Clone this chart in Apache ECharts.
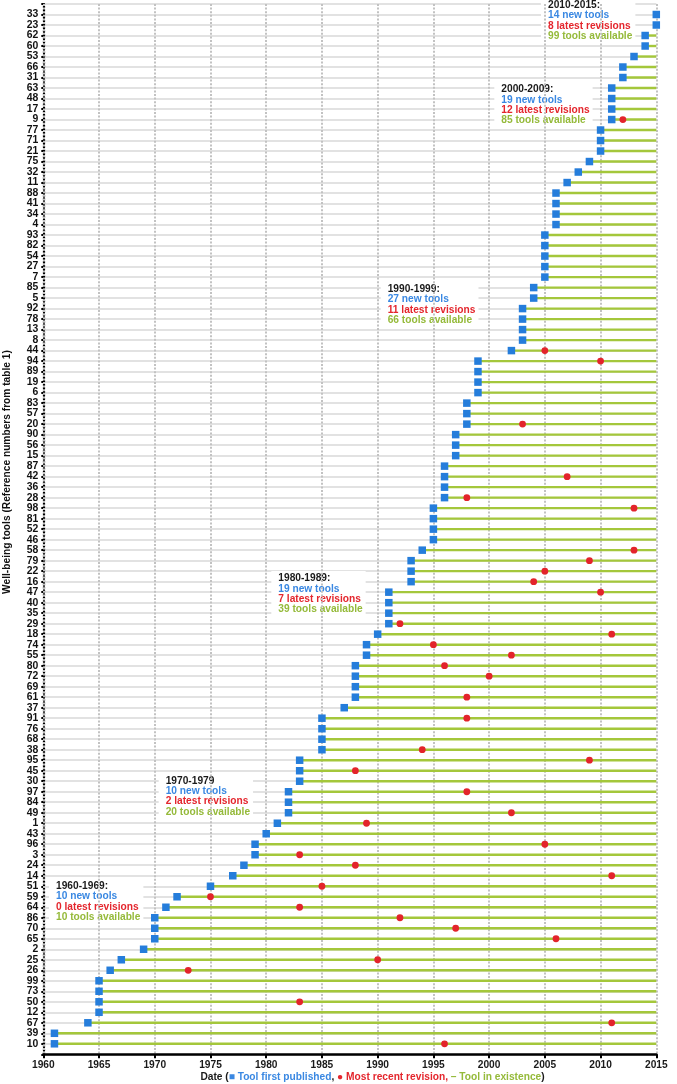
<!DOCTYPE html>
<html><head><meta charset="utf-8">
<script src="https://cdn.jsdelivr.net/npm/echarts@6/dist/echarts.min.js"></script>
<style>html,body{margin:0;padding:0;background:#fff}#c{width:677px;height:1084px}</style>
</head><body><div id="c"></div>
<script>
// Tools listed bottom -> top (reference numbers from table 1)
const tools = ['10','39','67','12','50','73','99','26','25','2',
  '65','70','86','64','59','51','14','24','3','96',
  '43','1','49','84','97','30','45','95','38','68',
  '76','91','37','61','69','72','80','55','74','18',
  '29','35','40','47','16','22','79','58','46','52',
  '81','98','28','36','42','87','15','56','90','20',
  '57','83','6','19','89','94','44','8','13','78',
  '92','5','85','7','27','54','82','93','4','34',
  '41','88','11','32','75','21','71','77','9','17',
  '48','63','31','66','53','60','62','23','33'];
const firstPublished = [1961,1961,1964,1965,1965,1965,1965,1966,1967,1969,
  1970,1970,1970,1971,1972,1975,1977,1978,1979,1979,
  1980,1981,1982,1982,1982,1983,1983,1983,1985,1985,
  1985,1985,1987,1988,1988,1988,1988,1989,1989,1990,
  1991,1991,1991,1991,1993,1993,1993,1994,1995,1995,
  1995,1995,1996,1996,1996,1996,1997,1997,1997,1998,
  1998,1998,1999,1999,1999,1999,2002,2003,2003,2003,
  2003,2004,2004,2005,2005,2005,2005,2005,2006,2006,
  2006,2006,2007,2008,2009,2010,2010,2010,2011,2011,
  2011,2011,2012,2012,2013,2014,2014,2015,2015];
const latestRevision = [1996,null,2011,null,1983,null,null,1973,1990,null,
  2006,1997,1992,1983,1975,1985,2011,1988,1983,2005,
  null,1989,2002,null,1998,null,1988,2009,1994,null,
  null,1998,null,1998,null,2000,1996,2002,1995,2011,
  1992,null,null,2010,2004,2005,2009,2013,null,null,
  null,2013,1998,null,2007,null,null,null,null,2003,
  null,null,null,null,null,2010,2005,null,null,null,
  null,null,null,null,null,null,null,null,null,null,
  null,null,null,null,null,null,null,null,2012,null,
  null,null,null,null,null,null,null,null,null];
const yearStart = 1960, yearEnd = 2015, yearStep = 5;

const decadeLabels = ['1960-1969:','1970-1979','1980-1989:','1990-1999:','2000-2009:','2010-2015:'];
const decadeNewTools = [10,10,19,27,19,14];
const decadeRevisions = [0,2,7,11,12,8];
const decadeAvailable = [10,20,39,66,85,99];
const noteAnchors = [[56,886],[165.7,780.7],[278.3,578.3],[387.7,289],[501.3,89.3],[548,5]];

const BLUE = '#257ddb', RED = '#e3242b', GREEN = '#a4c73b', GRAY = '#e2e2e2';
const FONT = 'Arial, "Liberation Sans", sans-serif';
const LH = 10.45;

const richStyles = {
  h: {fill:'#1a1a1a', fontWeight:'bold', fontSize:10.2, fontFamily:FONT, lineHeight:LH},
  b: {fill:'#3a88e2', fontWeight:'bold', fontSize:10.2, fontFamily:FONT, lineHeight:LH},
  r: {fill:'#e4262d', fontWeight:'bold', fontSize:10.2, fontFamily:FONT, lineHeight:LH},
  g: {fill:'#95ba3a', fontWeight:'bold', fontSize:10.2, fontFamily:FONT, lineHeight:LH}
};

const pad = [2, 3, 2, 7];
const notes = decadeLabels.map((lab, i) => ({
  type: 'text', z: 1,
  x: noteAnchors[i][0] - pad[3],
  y: noteAnchors[i][1] - LH / 2 - pad[0],
  style: {
    text: '{h|' + lab + '}\n{b|' + decadeNewTools[i] + ' new tools}\n{r|' + decadeRevisions[i] +
      ' latest revisions}\n{g|' + decadeAvailable[i] + ' tools available}',
    rich: richStyles,
    backgroundColor: '#ffffff',
    padding: pad,
    align: 'left', verticalAlign: 'top'
  }
}));

const chart = echarts.init(document.getElementById('c'), null, {renderer: 'canvas'});
chart.setOption({
  animation: false,
  backgroundColor: '#ffffff',
  grid: {left: 43.3, right: 20.7, top: 4, bottom: 29.7, containLabel: false, outerBoundsMode: 'none'},
  xAxis: {
    type: 'value', min: yearStart, max: yearEnd, interval: yearStep, z: 2,
    axisLine: {show: true, lineStyle: {color: '#000', width: 2.6}},
    axisTick: {show: true, length: 4, lineStyle: {color: '#000', width: 2}},
    axisLabel: {color: '#1a1a1a', fontWeight: 'bold', fontSize: 10.2, fontFamily: FONT, margin: 6,
      formatter: v => String(v)},
    splitLine: {show: true, lineStyle: {color: '#c2c2c2', width: 2, type: [2, 1.6]}}
  },
  yAxis: {
    type: 'category', data: [''].concat(tools, [' ']), boundaryGap: false, z: 0,
    axisLine: {show: true, lineStyle: {color: '#000', width: 2.2, type: [2, 1.5]}},
    axisTick: {show: true, interval: 0, length: 2, lineStyle: {color: '#000', width: 2}},
    axisLabel: {interval: 0, color: '#111', fontWeight: 'bold', fontSize: 10.4, fontFamily: FONT, margin: 5},
    splitLine: {show: true, interval: 0, lineStyle: {color: GRAY, width: 1.8}}
  },
  series: [
    {
      name: 'Tool in existence', type: 'custom', z: 3,
      dimensions: ['start', 'end', 'tool'],
      encode: {x: [0, 1], y: 2},
      data: tools.map((t, i) => [firstPublished[i], yearEnd, t]),
      renderItem: function (params, api) {
        const yi = api.value(2);
        const p1 = api.coord([api.value(0), yi]);
        const p2 = api.coord([api.value(1), yi]);
        return {type: 'line', shape: {x1: p1[0], y1: p1[1], x2: p2[0], y2: p2[1]},
          style: {stroke: GREEN, lineWidth: 2.4}};
      }
    },
    {
      name: 'Tool first published', type: 'scatter', z: 4, clip: false,
      symbol: 'rect', symbolSize: 7.5,
      itemStyle: {color: BLUE, opacity: 1},
      data: tools.map((t, i) => [firstPublished[i], t])
    },
    {
      name: 'Most recent revision', type: 'scatter', z: 5, clip: false,
      symbol: 'circle', symbolSize: 6.8,
      itemStyle: {color: RED, opacity: 1},
      data: tools.map((t, i) => [latestRevision[i], t]).filter(d => d[0] !== null)
    }
  ],
  graphic: notes.concat([
    {
      type: 'text', z: 10, x: 7.5, y: 472, rotation: Math.PI / 2,
      style: {text: 'Well-being tools (Reference numbers from table 1)', fill: '#111',
        font: 'bold 10.2px ' + FONT, align: 'center', verticalAlign: 'middle'}
    },
    {
      type: 'text', z: 10, x: 372.5, y: 1077,
      style: {
        text: '{k|Date (}{b|■ Tool first published}{k|, }{r|● Most recent revision, }{g|– Tool in existence}{k|)}',
        align: 'center', verticalAlign: 'middle',
        rich: {
          k: {fill: '#1a1a1a', fontWeight: 'bold', fontSize: 10.2, fontFamily: FONT},
          b: {fill: '#3a88e2', fontWeight: 'bold', fontSize: 10.2, fontFamily: FONT},
          r: {fill: '#e4262d', fontWeight: 'bold', fontSize: 10.2, fontFamily: FONT},
          g: {fill: '#95ba3a', fontWeight: 'bold', fontSize: 10.2, fontFamily: FONT}
        }
      }
    }
  ])
});
</script>
</body></html>
